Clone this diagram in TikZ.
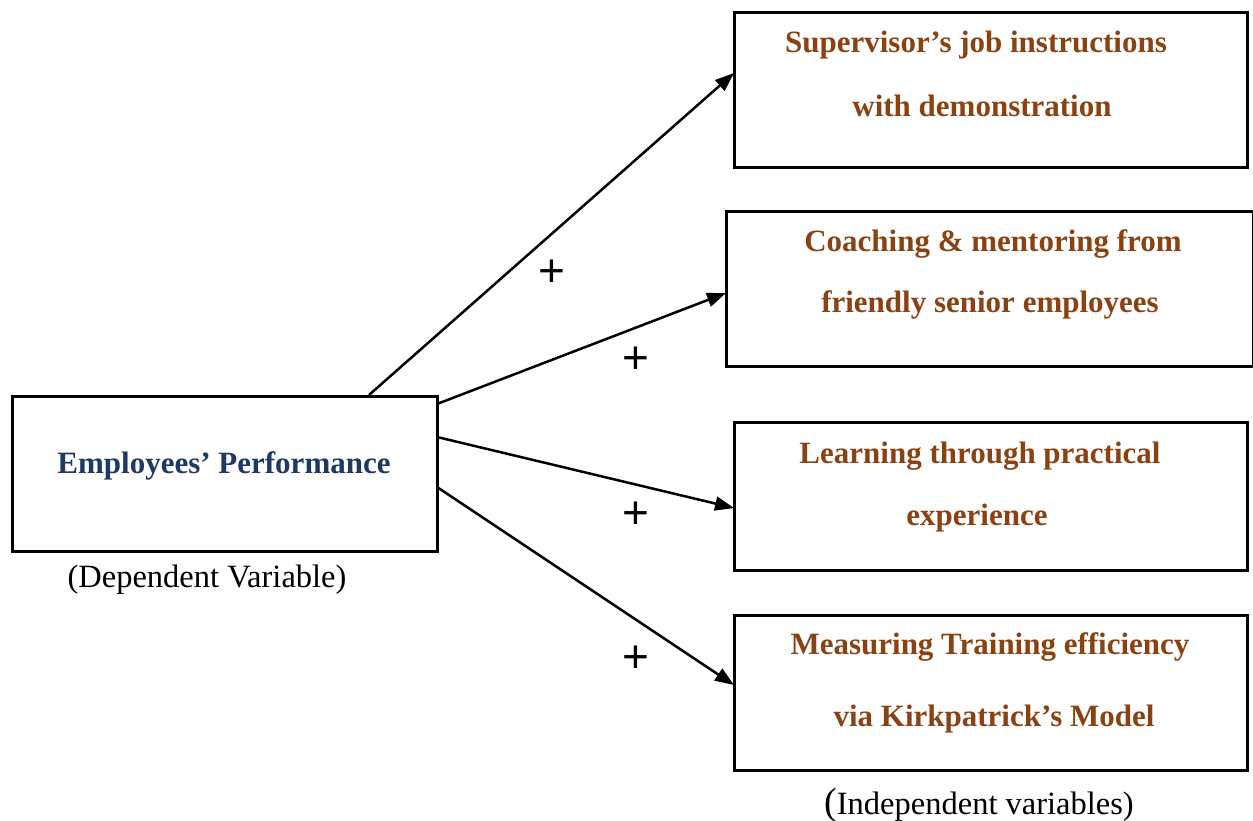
\documentclass[tikz,border=0pt]{standalone}
\usepackage{fontspec}
\setmainfont{Liberation Serif}
\newfontfamily\plusfont{Liberation Sans}
\usetikzlibrary{arrows.meta}
\definecolor{varbrown}{RGB}{139,66,18}
\definecolor{varnavy}{RGB}{31,56,100}
\begin{document}
\begin{tikzpicture}[x=1pt,y=-1pt,
  box/.style={draw=black,line width=3pt,rectangle,inner sep=0pt},
  indep/.style={text=varbrown,font=\fontsize{31}{36}\selectfont\bfseries,inner sep=0pt,anchor=center},
  dep/.style={text=varnavy,font=\fontsize{31}{36}\selectfont\bfseries,inner sep=0pt},
  caption/.style={text=black,font=\fontsize{32.5}{36}\selectfont,inner sep=0pt},
  sign/.style={font=\plusfont\fontsize{46}{48}\selectfont,inner sep=0pt},
  link/.style={line width=2.5pt,-{Triangle[length=19pt,width=14pt]}}]
\useasboundingbox (0,0) rectangle (1253,820);

% dependent variable
\node[box,minimum width=425pt,minimum height=155pt] (dv) at (224.5,473.5) {};
\node[dep] (dvtext) at (224,466) {Employees’ Performance};
\node[caption] (dvcap) at (207,580) {(Dependent Variable)};

% independent variables
\node[box,minimum width=513pt,minimum height=155pt] (b1) at (990.5,89.5) {};
\node[indep] (b1a) at (976,45) {Supervisor’s job instructions};
\node[indep] (b1b) at (982,106) {with demonstration};

\node[box,minimum width=527pt,minimum height=155pt] (b2) at (989.5,288.5) {};
\node[indep] (b2a) at (993,244) {Coaching \& mentoring from};
\node[indep] (b2b) at (990,305) {friendly senior employees};

\node[box,minimum width=513pt,minimum height=148pt] (b3) at (990.5,496) {};
\node[indep] (b3a) at (980,456) {Learning through practical};
\node[indep] (b3b) at (977,518) {experience};

\node[box,minimum width=513pt,minimum height=155pt] (b4) at (990.5,692.5) {};
\node[indep] (b4a) at (990,647) {Measuring Training efficiency};
\node[indep] (b4b) at (994,719) {via Kirkpatrick’s Model};

\node[caption] (ivcap) at (979,805) {{\fontsize{38}{38}\selectfont(}Independent variables)};

% connector end points on the box borders
\coordinate (s1) at (369,395);
\coordinate (s2) at (437,404);
\coordinate (s3) at (437,437);
\coordinate (s4) at (437,487);
\coordinate (e1) at (734,73);
\coordinate (e2) at (726,293);
\coordinate (e3) at (734,508);
\coordinate (e4) at (734,685);

\draw[link] (s1) -- (e1);
\draw[link] (s2) -- (e2);
\draw[link] (s3) -- (e3);
\draw[link] (s4) -- (e4);

% signs of the relations
\node[sign] (p1) at (552,273) {+};
\node[sign] (p2) at (636,360) {+};
\node[sign] (p3) at (636,515) {+};
\node[sign] (p4) at (636,659) {+};
\end{tikzpicture}
\end{document}
